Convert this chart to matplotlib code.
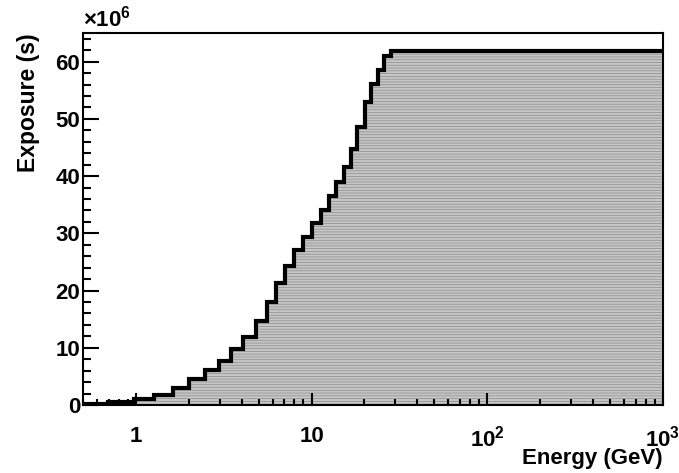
import numpy as np
import matplotlib as mpl
mpl.use("Agg")
from matplotlib import pyplot as plt
from matplotlib.ticker import FixedLocator, NullFormatter, MultipleLocator

# bin edges (GeV)
edges = [0.5, 0.69, 0.98, 1.27, 1.62, 2.02, 2.49, 2.96, 3.5, 4.1, 4.8, 5.6,
         6.25, 7.1, 8.0, 9.0, 10.0, 11.3, 12.5, 13.7, 15.3, 16.7, 18.1,
         20.1, 21.8, 23.9, 25.8, 28.3, 1000.0]
# exposure per bin in units of 1e6 s
exposure = [0.1, 0.45, 1.05, 1.75, 3.0, 4.5, 6.1, 7.7, 9.8, 11.9, 14.6,
            18.0, 21.4, 24.2, 27.0, 29.3, 31.8, 34.1, 36.5, 39.0, 41.6,
            44.8, 48.5, 53.0, 56.1, 58.6, 61.0, 61.9]

xtick_pos = [1, 10, 100, 1000]
xtick_lab = ["1", "10", r"$10^{2}$", r"$10^{3}$"]

plt.rcParams["font.family"] = "Liberation Sans"
plt.rcParams["font.weight"] = "bold"
plt.rcParams["mathtext.fontset"] = "custom"
plt.rcParams["mathtext.rm"] = "Liberation Sans:bold"
plt.rcParams["mathtext.it"] = "Liberation Sans:bold"
plt.rcParams["mathtext.bf"] = "Liberation Sans:bold"
plt.rcParams["hatch.linewidth"] = 0.5

fig = plt.figure(figsize=(6.79, 4.73), dpi=100)
ax = fig.add_axes([0.1222, 0.1438, 0.854, 0.7864])

# Fuellung (grau, gestreift) und Umriss getrennt zeichnen
ax.stairs(exposure, edges, baseline=0, fill=True, facecolor="#c6c6c6",
          hatch="------", edgecolor="#8c8c8c", linewidth=0)
ax.stairs(exposure, edges, baseline=None, color="black", linewidth=3)

ax.set_xscale("log")
ax.set_xlim(0.5, 1000)
ax.set_ylim(0, 65)

ax.xaxis.set_major_locator(FixedLocator(xtick_pos))
ax.set_xticklabels(xtick_lab)
minor = [m * 10.0**d for d in range(-1, 3) for m in range(2, 10)]
ax.xaxis.set_minor_locator(FixedLocator(minor))
ax.xaxis.set_minor_formatter(NullFormatter())
ax.yaxis.set_major_locator(MultipleLocator(10))
ax.yaxis.set_minor_locator(MultipleLocator(2))

ax.tick_params(axis="both", which="both", direction="in", top=False, right=False,
               labelsize=16, width=1.5)
ax.tick_params(axis="x", which="major", length=8.5, pad=15)
ax.tick_params(axis="x", which="minor", length=4.3)
ax.tick_params(axis="y", which="major", length=11.5, pad=2)
ax.tick_params(axis="y", which="minor", length=5.8)
for s in ax.spines.values():
    s.set_linewidth(1.5)

ax.set_xlabel("Energy (GeV)", fontsize=16, fontweight="bold", loc="right", labelpad=-3)
ax.set_ylabel("Exposure (s)", fontsize=16.5, fontweight="bold", loc="top", labelpad=11)
ax.text(0.0, 1.005, r"$\times10^{6}$", transform=ax.transAxes, fontsize=16,
        ha="left", va="bottom")

fig.savefig("out.png", dpi=100)
